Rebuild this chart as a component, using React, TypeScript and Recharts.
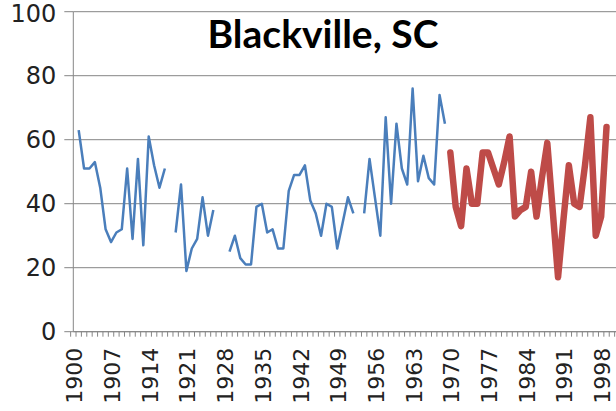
import { LineChart, Line, XAxis, YAxis, CartesianGrid } from "recharts";

// years on the category axis (extra two at the end so the plot runs to the edge)
const years: number[] = [];
for (let y = 1900; y <= 2001; y++) years.push(y);

// thin blue series, 1900-1969 (null = missing year)
const blueValues: (number | null)[] = [
    null, 63, 51, 51, 53, 45, 32, 28, 31, 32,
    51, 29, 54, 27, 61, 52, 45, 51, null, 31,
    46, 19, 26, 29, 42, 30, 38, null, null, 25,
    30, 23, 21, 21, 39, 40, 31, 32, 26, 26,
    44, 49, 49, 52, 41, 37, 30, 40, 39, 26,
    34, 42, 37, null, 37, 54, 42, 30, 67, 40,
    65, 51, 46, 76, 47, 55, 48, 46, 74, 65,
];

// thick red series, 1970-1999
const redValues: number[] = [
    56, 39, 33, 51, 40, 40, 56, 56, 51, 46,
    53, 61, 36, 38, 39, 50, 36, 48, 59, 38,
    17, 35, 52, 40, 39, 52, 67, 30, 36, 64,
];

const yTicks = [0, 20, 40, 60, 80, 100];

const data = years.map((year, i) => ({
    year: String(year),
    blue: i < blueValues.length ? blueValues[i] : null,
    red: year >= 1970 && year - 1970 < redValues.length ? redValues[year - 1970] : null,
}));

const BAND = 544 / years.length;

const YearTick = (props: any) => {
    const { x, y, index, payload } = props;
    const showLabel = index % 7 === 0;
    return (
        <g>
            <line x1={x - BAND / 2} x2={x - BAND / 2} y1={y} y2={y + 5} stroke="#868686" strokeWidth={1} />
            {showLabel && (
                <text
                    x={0}
                    y={0}
                    transform={`translate(${x + 9},${y + 16}) rotate(-90)`}
                    textAnchor="end"
                    fontSize={22}
                    fontFamily="DejaVu Sans"
                    fill="#222"
                >
                    {payload.value}
                </text>
            )}
        </g>
    );
};

const App = () => {
    return (
        <div style={{ position: "absolute", left: 0, top: 0, width: 616, height: 411, overflow: "hidden", background: "#fff" }}>
            <LineChart
                width={618}
                height={411}
                data={data}
                margin={{ top: 11.7, right: 0.7, bottom: 0, left: 0 }}
            >
                <CartesianGrid vertical={false} stroke="#868686" strokeWidth={1} />
                <XAxis
                    dataKey="year"
                    interval={0}
                    height={79.3}
                    tick={<YearTick />}
                    tickLine={false}
                    tickSize={0}
                    tickMargin={0}
                    axisLine={{ stroke: "#868686" }}
                />
                <YAxis
                    domain={[0, 100]}
                    ticks={yTicks}
                    width={73.3}
                    tickSize={9}
                    tickMargin={8}
                    tickLine={{ stroke: "#868686" }}
                    axisLine={{ stroke: "#868686" }}
                    tick={{ fontSize: 24, fontFamily: "DejaVu Sans", fill: "#222" }}
                />
                <Line
                    type="linear"
                    dataKey="blue"
                    stroke="#4A7EBB"
                    strokeWidth={2.5}
                    dot={false}
                    activeDot={false}
                    connectNulls={false}
                    strokeLinejoin="round"
                    isAnimationActive={false}
                />
                <Line
                    type="linear"
                    dataKey="red"
                    stroke="#BE4B48"
                    strokeWidth={6.5}
                    dot={false}
                    activeDot={false}
                    strokeLinejoin="round"
                    strokeLinecap="round"
                    isAnimationActive={false}
                />
            </LineChart>
            <div
                style={{
                    position: "absolute",
                    left: 0,
                    width: 646,
                    top: 10,
                    textAlign: "center",
                    fontFamily: "Lato",
                    fontWeight: 700,
                    fontSize: 39,
                    color: "#000",
                }}
            >
                Blackville, SC
            </div>
        </div>
    );
};

export default App;
